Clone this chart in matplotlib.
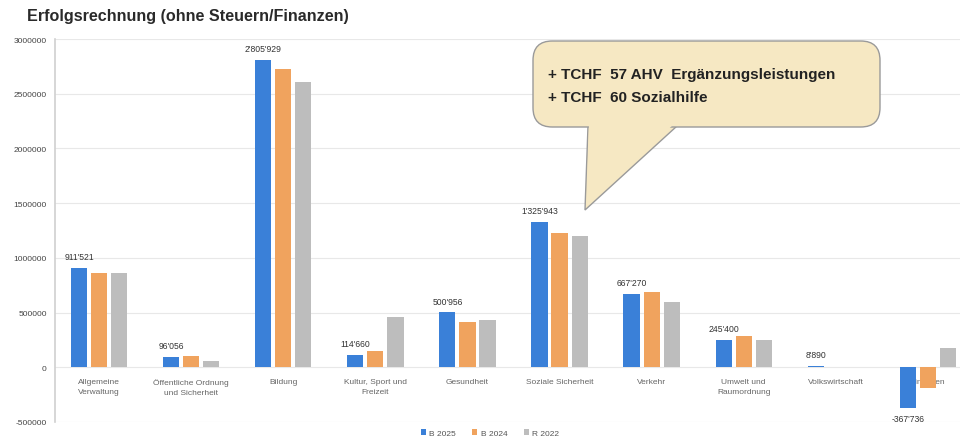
import matplotlib
matplotlib.use("Agg")
import matplotlib.pyplot as plt
import numpy as np
from matplotlib.patches import FancyBboxPatch, Polygon

categories = ["Allgemeine\nVerwaltung", "Öffentliche Ordnung\nund Sicherheit", "Bildung",
              "Kultur, Sport und\nFreizeit", "Gesundheit", "Soziale Sicherheit", "Verkehr",
              "Umwelt und\nRaumordnung", "Volkswirtschaft", "Finanzen"]
b2025 = [911521, 96056, 2805929, 114660, 500956, 1325943, 667270, 245400, 8890, -367736]
b2024 = [861000, 105000, 2730000, 145000, 415000, 1230000, 690000, 283000, 1000, -185000]
r2022 = [861000, 62000, 2610000, 460000, 430000, 1200000, 594000, 252000, 4000, 178000]
labels_2025 = ["911'521", "96'056", "2'805'929", "114'660", "500'956", "1'325'943",
               "667'270", "245'400", "8'890", "-367'736"]
series_names = ["B 2025", "B 2024", "R 2022"]
yticks = [-500000, 0, 500000, 1000000, 1500000, 2000000, 2500000, 3000000]

colors = ["#3a80d8", "#f0a35e", "#bdbdbd"]

W, H = 964, 439
fig = plt.figure(figsize=(W / 100, H / 100), dpi=100)
plt.rcParams['font.family'] = ['Liberation Sans', 'DejaVu Sans']

def fx(x):
    return x / W

def fy(y):
    return 1 - y / H

ax = fig.add_axes([fx(55), fy(423), fx(960) - fx(55), fy(40) - fy(423)])
x = np.arange(len(categories))
width = 0.175
off = 0.218
for i, (vals, c, n) in enumerate(zip([b2025, b2024, r2022], colors, series_names)):
    ax.bar(x + (i - 1) * off, vals, width, color=c, label=n, zorder=3)

ax.set_ylim(-500000, 3000000)
ax.set_xlim(-0.48, 9.35)
ax.set_yticks(yticks)
ax.set_yticklabels([str(v) for v in yticks], fontsize=6, color="#444444")
ax.tick_params(axis='y', length=0, pad=6)
ax.set_xticks([])
ax.grid(axis='y', color="#e8e8e8", linewidth=0.8, zorder=0)
for s in ["top", "right", "bottom"]:
    ax.spines[s].set_visible(False)
ax.spines["left"].set_color("#d0d0d0")
ax.spines["left"].set_linewidth(1.2)

# data labels for B 2025
for xi, v, lab in zip(x, b2025, labels_2025):
    if v >= 0:
        ax.annotate(lab, (xi - off, v), xytext=(0, 5), textcoords="offset points",
                    ha="center", va="bottom", fontsize=6.2, color="#333333", zorder=4)
    else:
        ax.annotate(lab, (xi - off, v), xytext=(0, -5), textcoords="offset points",
                    ha="center", va="top", fontsize=6.2, color="#333333", zorder=4)

# category labels just below zero line
for xi, cat in zip(x, categories):
    ax.annotate(cat, (xi, 0), xytext=(0, -8), textcoords="offset points",
                ha="center", va="top", fontsize=6, color="#666666",
                linespacing=1.6, zorder=2)

# legend
fig.legend(loc="center", bbox_to_anchor=(fx(490), fy(434)), ncol=3, frameon=False,
           fontsize=6, handlelength=0.6, handleheight=0.6, columnspacing=2.0,
           handletextpad=0.4, labelcolor="#555555")

# title
fig.text(fx(27), fy(16), "Erfolgsrechnung (ohne Steuern/Finanzen)", fontsize=11.6,
         fontweight="bold", color="#2a2a2a", ha="left", va="center")

# callout
fill = "#f6e8c3"
edge = "#9a9a9a"
ptr = [(fx(588), fy(127)), (fx(585), fy(211)), (fx(677), fy(127))]
fig.patches.append(Polygon(ptr, closed=True, transform=fig.transFigure, facecolor=fill,
                           edgecolor=edge, linewidth=1.0, zorder=5))
box = FancyBboxPatch((fx(533), fy(128)), fx(880) - fx(533), fy(42) - fy(128),
                     boxstyle="round,pad=0,rounding_size=0.02", transform=fig.transFigure,
                     facecolor=fill, edgecolor=edge, linewidth=1.0, zorder=6,
                     mutation_aspect=W / H)
fig.patches.append(box)
ptr2 = [(fx(589), fy(125)), (fx(586.5), fy(207)), (fx(674), fy(125))]
fig.patches.append(Polygon(ptr2, closed=True, transform=fig.transFigure, facecolor=fill,
                           edgecolor="none", zorder=7))
fig.text(fx(548), fy(75), "+ TCHF  57 AHV  Ergänzungsleistungen", fontsize=11,
         fontweight="bold", color="#222222", ha="left", va="center", zorder=8)
fig.text(fx(548), fy(98), "+ TCHF  60 Sozialhilfe", fontsize=11,
         fontweight="bold", color="#222222", ha="left", va="center", zorder=8)

fig.savefig("out.png", dpi=100)
